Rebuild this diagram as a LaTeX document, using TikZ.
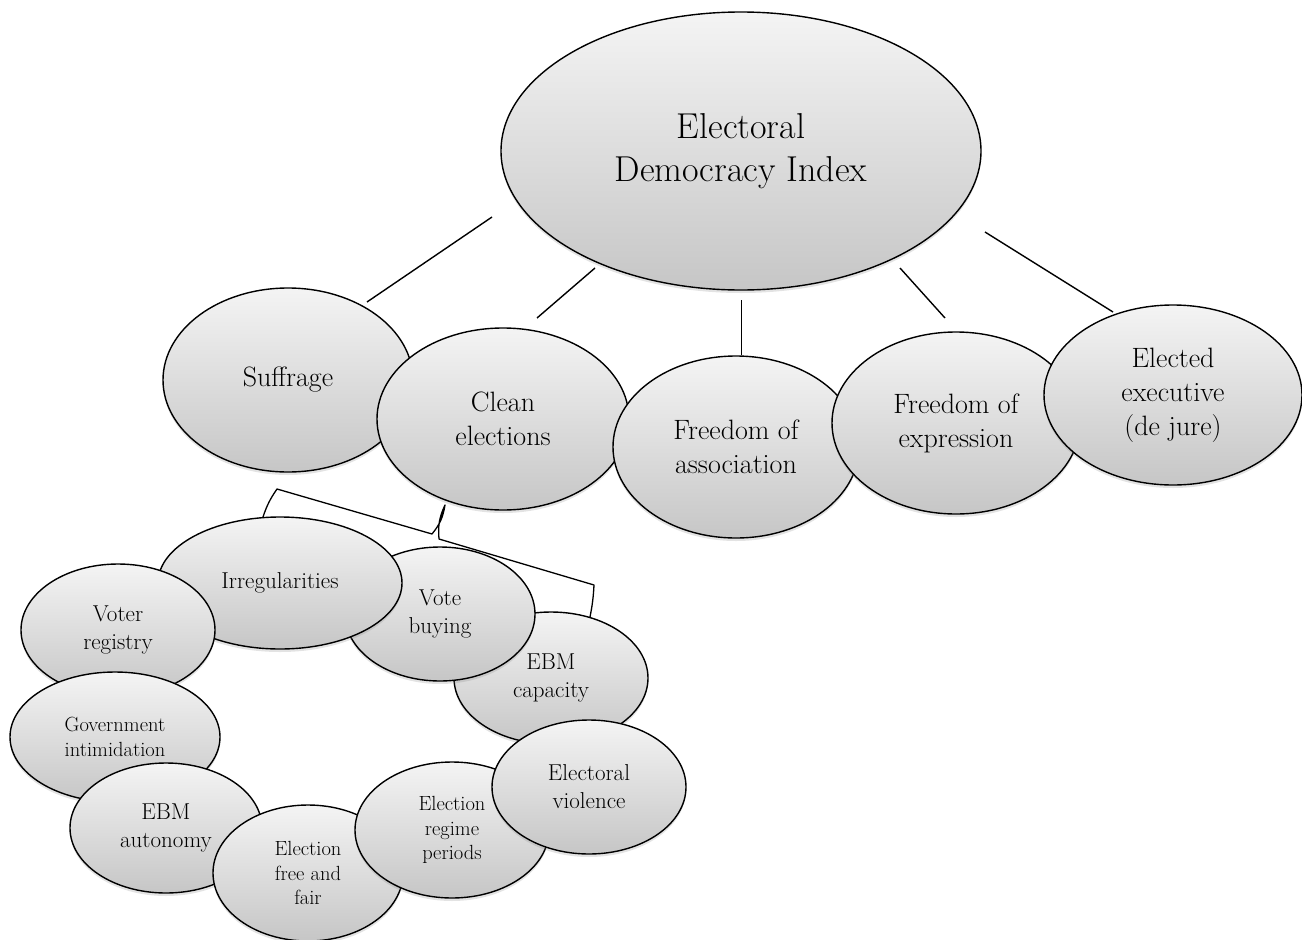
\documentclass[tikz,border=0pt]{standalone}
\usetikzlibrary{shapes.geometric,shadows}
\definecolor{gtop}{RGB}{244,244,244}
\definecolor{gbot}{RGB}{198,198,198}
\begin{document}
\begin{tikzpicture}[x=1pt,y=-1pt,
  bub/.style={ellipse, draw=black, line width=1.4pt, top color=gtop, bottom color=gbot,
    inner sep=0pt, align=center, text=black,
    drop shadow={opacity=0.22, shadow xshift=0pt, shadow yshift=-3pt}},
  bigtxt/.style={font=\fontsize{36}{43}\selectfont},
  midtxt/.style={font=\fontsize{28}{34}\selectfont},
  lowtxt/.style={font=\fontsize{23}{28}\selectfont},
  smalltxt/.style={font=\fontsize{20.5}{24.5}\selectfont},
  conn/.style={line width=1.4pt, black}]
\useasboundingbox (0,0) rectangle (1302,940);

% connector end points
\coordinate (l1a) at (492,217); \coordinate (l1b) at (367,302);
\coordinate (l2a) at (595,268); \coordinate (l2b) at (537,318);
\coordinate (l3a) at (741.5,300); \coordinate (l3b) at (741.5,355);
\coordinate (l4a) at (900,268); \coordinate (l4b) at (945,318);
\coordinate (l5a) at (985,232); \coordinate (l5b) at (1113,312);
\draw[conn] (l1a) -- (l1b);
\draw[conn] (l2a) -- (l2b);
\draw[conn] (l3a) -- (l3b);
\draw[conn] (l4a) -- (l4b);
\draw[conn] (l5a) -- (l5b);

% main
\node[bub, bigtxt, minimum width=480pt, minimum height=278pt] (edi) at (741,151) {Electoral\\Democracy Index};

% top row
\node[bub, midtxt, minimum width=250pt, minimum height=184pt] (suf) at (288,380) {Suffrage};
\node[bub, midtxt, minimum width=252pt, minimum height=182pt] (cle) at (503,419) {Clean\\elections};
\node[bub, midtxt, minimum width=246pt, minimum height=182pt] (foa) at (736,447) {Freedom of\\association};
\node[bub, midtxt, minimum width=248pt, minimum height=182pt] (foe) at (956,423) {Freedom of\\expression};
\node[bub, midtxt, minimum width=258pt, minimum height=180pt] (exe) at (1173,395) {Elected\\executive\\(de jure)};

% bracket
\coordinate (b1) at (263,517); \coordinate (b2) at (277,489);
\coordinate (b3) at (432,534); \coordinate (b4) at (445,505);
\coordinate (b5) at (439,539); \coordinate (b6) at (594,585);
\coordinate (b7) at (590,617);
\draw[conn, line width=1.3pt, line join=round] (b1) to[bend left=8] (b2) -- (b3) to[bend right=15] (b4) to[bend right=15] (b5) -- (b6) to[bend left=4] (b7);

% lower cluster (back to front)
\node[bub, lowtxt, minimum width=194pt, minimum height=132pt] (cap) at (551,678) {EBM\\capacity};
\node[bub, lowtxt, minimum width=190pt, minimum height=134pt] (vb) at (440,614) {Vote\\buying};
\node[bub, lowtxt, minimum width=244pt, minimum height=132pt] (irr) at (280,583) {Irregularities};
\node[bub, lowtxt, minimum width=194pt, minimum height=132pt] (vr) at (118,630) {Voter\\registry};
\node[bub, smalltxt, minimum width=210pt, minimum height=130pt] (gov) at (115,737) {Government\\intimidation};
\node[bub, lowtxt, minimum width=192pt, minimum height=130pt] (aut) at (166,828) {EBM\\autonomy};
\node[bub, smalltxt, minimum width=190pt, minimum height=136pt] (ff) at (308,873) {Election\\free and\\fair};
\node[bub, smalltxt, minimum width=194pt, minimum height=136pt] (reg) at (452,830) {Election\\regime\\periods};
\node[bub, lowtxt, minimum width=194pt, minimum height=134pt] (vio) at (589,787) {Electoral\\violence};
\end{tikzpicture}
\end{document}
